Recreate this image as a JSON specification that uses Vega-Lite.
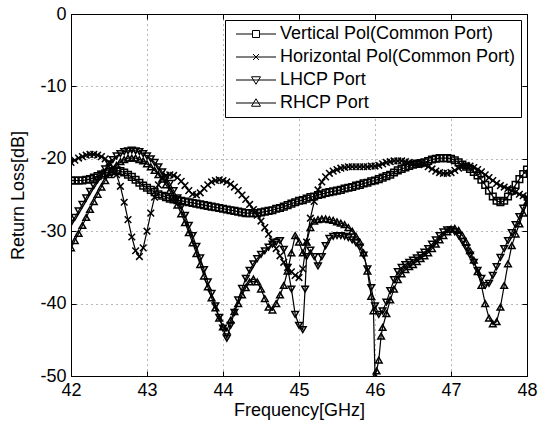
{
"$schema":"https://vega.github.io/schema/vega-lite/v6.json",
"width":456,"height":362,
"autosize":{"type":"none"},
"padding":{"left":71,"top":14,"right":11,"bottom":47},
"background":"white",
"config":{"view":{"stroke":"black","strokeWidth":1},"font":"Liberation Sans"},
"data":{"values":[
{"f":42.00,"V":-23.0,"H":-20.5,"L":-28.9,"R":-32.3},
{"f":42.05,"V":-23.0,"H":-20.2,"L":-28.1,"R":-31.3},
{"f":42.10,"V":-23.0,"H":-19.9,"L":-27.2,"R":-30.3},
{"f":42.15,"V":-23.0,"H":-19.7,"L":-26.3,"R":-29.2},
{"f":42.20,"V":-22.9,"H":-19.5,"L":-25.4,"R":-28.1},
{"f":42.25,"V":-22.8,"H":-19.4,"L":-24.5,"R":-27.0},
{"f":42.30,"V":-22.6,"H":-19.4,"L":-23.7,"R":-25.9},
{"f":42.35,"V":-22.4,"H":-19.5,"L":-22.9,"R":-24.9},
{"f":42.40,"V":-22.2,"H":-19.7,"L":-22.1,"R":-23.9},
{"f":42.45,"V":-22.0,"H":-20.0,"L":-21.4,"R":-23.0},
{"f":42.50,"V":-21.8,"H":-20.5,"L":-20.7,"R":-22.2},
{"f":42.55,"V":-21.7,"H":-21.2,"L":-20.1,"R":-21.5},
{"f":42.60,"V":-21.6,"H":-22.2,"L":-19.6,"R":-20.9},
{"f":42.65,"V":-21.7,"H":-23.8,"L":-19.3,"R":-20.4},
{"f":42.70,"V":-21.9,"H":-26.0,"L":-19.0,"R":-20.1},
{"f":42.75,"V":-22.2,"H":-28.4,"L":-18.9,"R":-19.9},
{"f":42.80,"V":-22.5,"H":-30.8,"L":-18.8,"R":-19.9},
{"f":42.85,"V":-22.9,"H":-32.7,"L":-18.9,"R":-19.9},
{"f":42.90,"V":-23.3,"H":-33.5,"L":-19.0,"R":-20.1},
{"f":42.95,"V":-23.7,"H":-32.3,"L":-19.3,"R":-20.3},
{"f":43.00,"V":-24.0,"H":-30.0,"L":-19.6,"R":-20.7},
{"f":43.05,"V":-24.3,"H":-27.5,"L":-20.0,"R":-21.1},
{"f":43.10,"V":-24.6,"H":-25.3,"L":-20.5,"R":-21.6},
{"f":43.15,"V":-24.9,"H":-23.6,"L":-21.1,"R":-22.2},
{"f":43.20,"V":-25.1,"H":-22.7,"L":-21.8,"R":-22.8},
{"f":43.25,"V":-25.3,"H":-22.3,"L":-22.6,"R":-23.6},
{"f":43.30,"V":-25.5,"H":-22.2,"L":-23.4,"R":-24.4},
{"f":43.35,"V":-25.6,"H":-22.3,"L":-24.4,"R":-25.4},
{"f":43.40,"V":-25.7,"H":-22.6,"L":-25.4,"R":-26.4},
{"f":43.45,"V":-25.8,"H":-23.1,"L":-26.6,"R":-27.6},
{"f":43.50,"V":-25.9,"H":-23.7,"L":-27.8,"R":-28.8},
{"f":43.55,"V":-26.0,"H":-24.4,"L":-29.2,"R":-30.2},
{"f":43.60,"V":-26.1,"H":-24.9,"L":-30.6,"R":-31.6},
{"f":43.65,"V":-26.2,"H":-25.0,"L":-32.1,"R":-33.1},
{"f":43.70,"V":-26.3,"H":-24.7,"L":-33.7,"R":-34.6},
{"f":43.75,"V":-26.4,"H":-24.1,"L":-35.3,"R":-36.2},
{"f":43.80,"V":-26.5,"H":-23.6,"L":-37.0,"R":-37.7},
{"f":43.85,"V":-26.6,"H":-23.2,"L":-38.6,"R":-39.2},
{"f":43.90,"V":-26.7,"H":-23.0,"L":-40.3,"R":-40.6},
{"f":43.95,"V":-26.8,"H":-22.9,"L":-41.9,"R":-42.0},
{"f":44.00,"V":-26.9,"H":-23.0,"L":-43.4,"R":-43.2},
{"f":44.05,"V":-27.0,"H":-23.2,"L":-44.8,"R":-43.8},
{"f":44.10,"V":-27.1,"H":-23.5,"L":-43.0,"R":-42.3},
{"f":44.15,"V":-27.2,"H":-23.9,"L":-41.2,"R":-41.1},
{"f":44.20,"V":-27.3,"H":-24.4,"L":-39.5,"R":-40.0},
{"f":44.25,"V":-27.4,"H":-25.0,"L":-37.9,"R":-38.8},
{"f":44.30,"V":-27.5,"H":-25.6,"L":-36.5,"R":-37.8},
{"f":44.35,"V":-27.5,"H":-26.3,"L":-35.4,"R":-37.0},
{"f":44.40,"V":-27.5,"H":-27.0,"L":-34.5,"R":-36.6},
{"f":44.45,"V":-27.5,"H":-27.8,"L":-33.8,"R":-37.0},
{"f":44.50,"V":-27.4,"H":-28.6,"L":-33.2,"R":-38.0},
{"f":44.55,"V":-27.3,"H":-29.5,"L":-32.7,"R":-39.3},
{"f":44.60,"V":-27.2,"H":-30.4,"L":-32.2,"R":-40.5},
{"f":44.65,"V":-27.1,"H":-31.4,"L":-31.8,"R":-40.9},
{"f":44.70,"V":-26.9,"H":-32.4,"L":-31.5,"R":-40.0},
{"f":44.75,"V":-26.8,"H":-33.4,"L":-31.3,"R":-38.8},
{"f":44.80,"V":-26.6,"H":-34.3,"L":-32.5,"R":-37.5},
{"f":44.85,"V":-26.4,"H":-35.0,"L":-35.0,"R":-35.5},
{"f":44.90,"V":-26.2,"H":-35.6,"L":-38.0,"R":-33.0},
{"f":44.95,"V":-26.0,"H":-36.1,"L":-41.5,"R":-30.6},
{"f":45.00,"V":-25.8,"H":-36.4,"L":-43.0,"R":-31.5},
{"f":45.05,"V":-25.7,"H":-35.2,"L":-43.6,"R":-33.0},
{"f":45.08,"L":-38.0},
{"f":45.10,"V":-25.5,"H":-31.5,"L":-33.5,"R":-31.5},
{"f":45.15,"V":-25.3,"H":-28.2,"L":-32.6,"R":-29.5},
{"f":45.20,"V":-25.2,"H":-25.9,"L":-33.5,"R":-28.6},
{"f":45.25,"V":-25.0,"H":-24.3,"L":-34.8,"R":-28.4},
{"f":45.30,"V":-24.9,"H":-23.2,"L":-33.5,"R":-28.3},
{"f":45.35,"V":-24.7,"H":-22.5,"L":-32.0,"R":-28.3},
{"f":45.40,"V":-24.6,"H":-22.0,"L":-31.0,"R":-28.4},
{"f":45.45,"V":-24.5,"H":-21.7,"L":-30.7,"R":-28.5},
{"f":45.50,"V":-24.4,"H":-21.5,"L":-30.6,"R":-28.7},
{"f":45.55,"V":-24.3,"H":-21.3,"L":-30.6,"R":-28.9},
{"f":45.60,"V":-24.1,"H":-21.2,"L":-30.7,"R":-29.1},
{"f":45.65,"V":-24.0,"H":-21.1,"L":-30.9,"R":-29.5},
{"f":45.70,"V":-23.9,"H":-21.1,"L":-31.2,"R":-30.0},
{"f":45.75,"V":-23.7,"H":-21.1,"L":-31.6,"R":-30.7},
{"f":45.80,"V":-23.6,"H":-21.1,"L":-32.2,"R":-31.5},
{"f":45.85,"V":-23.4,"H":-21.1,"L":-33.3,"R":-33.0},
{"f":45.90,"V":-23.3,"H":-21.1,"L":-35.2,"R":-35.5},
{"f":45.95,"V":-23.1,"H":-21.0,"L":-37.8,"R":-39.0},
{"f":45.98,"R":-41.0},
{"f":46.00,"V":-23.0,"H":-21.0,"L":-40.3,"R":-50.0},
{"f":46.02,"R":-49.3},
{"f":46.05,"V":-22.8,"H":-20.9,"L":-41.5,"R":-47.8},
{"f":46.08,"R":-44.5},
{"f":46.10,"V":-22.6,"H":-20.7,"L":-41.0,"R":-43.3},
{"f":46.15,"V":-22.4,"H":-20.5,"L":-39.8,"R":-41.4},
{"f":46.20,"V":-22.2,"H":-20.4,"L":-38.2,"R":-39.5},
{"f":46.25,"V":-21.9,"H":-20.3,"L":-36.7,"R":-38.0},
{"f":46.30,"V":-21.6,"H":-20.3,"L":-35.6,"R":-36.7},
{"f":46.35,"V":-21.4,"H":-20.3,"L":-35.0,"R":-35.9},
{"f":46.40,"V":-21.2,"H":-20.4,"L":-34.6,"R":-35.3},
{"f":46.45,"V":-21.0,"H":-20.5,"L":-34.3,"R":-34.9},
{"f":46.50,"V":-20.8,"H":-20.6,"L":-34.0,"R":-34.6},
{"f":46.55,"V":-20.7,"H":-20.6,"L":-33.7,"R":-34.2},
{"f":46.60,"V":-20.6,"H":-20.6,"L":-33.3,"R":-33.8},
{"f":46.65,"V":-20.5,"H":-20.8,"L":-32.9,"R":-33.4},
{"f":46.70,"V":-20.3,"H":-21.1,"L":-32.4,"R":-33.0},
{"f":46.75,"V":-20.1,"H":-21.4,"L":-31.8,"R":-32.4},
{"f":46.80,"V":-20.0,"H":-21.7,"L":-31.2,"R":-31.8},
{"f":46.85,"V":-19.9,"H":-21.9,"L":-30.6,"R":-31.2},
{"f":46.90,"V":-19.9,"H":-22.0,"L":-30.1,"R":-30.6},
{"f":46.95,"V":-19.9,"H":-22.0,"L":-29.8,"R":-30.1},
{"f":47.00,"V":-20.0,"H":-21.9,"L":-29.8,"R":-29.7},
{"f":47.05,"V":-20.2,"H":-21.6,"L":-30.1,"R":-29.6},
{"f":47.10,"V":-20.5,"H":-21.3,"L":-30.6,"R":-29.9},
{"f":47.15,"V":-20.8,"H":-21.0,"L":-31.4,"R":-30.6},
{"f":47.20,"V":-21.1,"H":-20.9,"L":-32.3,"R":-31.5},
{"f":47.25,"V":-21.4,"H":-21.0,"L":-33.3,"R":-32.7},
{"f":47.30,"V":-21.8,"H":-21.2,"L":-34.3,"R":-34.0},
{"f":47.35,"V":-22.3,"H":-21.5,"L":-35.4,"R":-35.6},
{"f":47.40,"V":-22.9,"H":-21.8,"L":-36.5,"R":-37.5},
{"f":47.45,"V":-23.6,"H":-22.2,"L":-37.5,"R":-40.0},
{"f":47.50,"V":-24.4,"H":-22.6,"L":-37.2,"R":-42.0},
{"f":47.55,"V":-25.2,"H":-23.0,"L":-36.1,"R":-42.8},
{"f":47.60,"V":-25.8,"H":-23.4,"L":-34.9,"R":-42.5},
{"f":47.65,"V":-26.0,"H":-23.7,"L":-33.6,"R":-40.5},
{"f":47.70,"V":-25.8,"H":-23.9,"L":-32.4,"R":-37.5},
{"f":47.75,"V":-25.2,"H":-24.1,"L":-31.3,"R":-34.5},
{"f":47.80,"V":-24.4,"H":-24.4,"L":-30.2,"R":-32.0},
{"f":47.85,"V":-23.6,"H":-24.6,"L":-29.1,"R":-30.4},
{"f":47.90,"V":-22.8,"H":-24.9,"L":-28.0,"R":-29.0},
{"f":47.95,"V":-22.1,"H":-25.1,"L":-26.8,"R":-27.5},
{"f":48.00,"V":-21.5,"H":-25.3,"L":-25.7,"R":-26.0}
]},
"transform":[{"fold":["V","H","L","R"],"as":["s","v"]},{"filter":"isValid(datum.v)"}],
"layer":[
{"mark":{"type":"line","color":"black","strokeWidth":1.2,"clip":true},
 "encoding":{
  "x":{"field":"f","type":"quantitative","scale":{"domain":[42,48],"nice":false,"zero":false},
   "axis":{"title":"Frequency[GHz]","values":[42,43,44,45,46,47,48],"format":"d","grid":true,"gridColor":"black","gridDash":[1,4],"gridOpacity":0.55,"gridWidth":1,"tickSize":-5,"tickColor":"black","domainColor":"black","labelColor":"black","labelFontSize":18,"labelFont":"Liberation Sans","labelPadding":10,"labelFlush":false,"titleFontSize":18,"titleFontWeight":"normal","titleColor":"black","titleFont":"Liberation Sans","titlePadding":2}},
  "y":{"field":"v","type":"quantitative","scale":{"domain":[-50,0],"nice":false,"zero":false},
   "axis":{"title":"Return Loss[dB]","values":[-50,-40,-30,-20,-10,0],"labelExpr":"'' + datum.value","grid":true,"gridColor":"black","gridDash":[1,4],"gridOpacity":0.55,"gridWidth":1,"tickSize":-5,"tickColor":"black","domainColor":"black","labelColor":"black","labelFontSize":18,"labelFont":"Liberation Sans","labelPadding":10,"titleFontSize":18,"titleFontWeight":"normal","titleColor":"black","titleFont":"Liberation Sans","titlePadding":12}},
  "detail":{"field":"s"}
 }},
{"mark":{"type":"point","filled":false,"color":"black","strokeWidth":1.5,"opacity":1,"size":44,"clip":true},
 "encoding":{
  "x":{"field":"f","type":"quantitative","scale":{"domain":[42,48],"nice":false,"zero":false},"axis":null},
  "y":{"field":"v","type":"quantitative","scale":{"domain":[-50,0],"nice":false,"zero":false},"axis":null},
  "shape":{"field":"s","type":"nominal","scale":{"domain":["V","H","L","R"],"range":["square","M-1,-1L1,1M-1,1L1,-1","triangle-down","triangle-up"]},"legend":null}
 }},
{"transform":[{"filter":"false"}],
 "mark":{"type":"point","filled":false,"color":"black","strokeWidth":1,"opacity":1},
 "encoding":{
  "x":{"field":"f","type":"quantitative","scale":{"domain":[42,48],"nice":false,"zero":false},
   "axis":{"orient":"top","labels":false,"domain":false,"grid":false,"tickSize":-5,"tickColor":"black","values":[42,43,44,45,46,47,48],"title":null}},
  "y":{"field":"v","type":"quantitative","scale":{"domain":[-50,0],"nice":false,"zero":false},
   "axis":{"orient":"right","labels":false,"domain":false,"grid":false,"tickSize":-5,"tickColor":"black","values":[-50,-40,-30,-20,-10,0],"title":null}},
  "shape":{"field":"s","type":"nominal","scale":{"domain":["V","H","L","R"],"range":["M-1,0H2.3M3.7,0H7M2.3,-0.7H3.7V0.7H2.3Z","M-1,0H7M2.4,-0.6L3.6,0.6M2.4,0.6L3.6,-0.6","M-1,0H7M2.1,-0.65H3.9L3,0.85Z","M-1,0H7M2.1,0.65H3.9L3,-0.85Z"]},
   "legend":{"title":null,"orient":"top-right","offset":6,"strokeColor":"black","fillColor":"white","padding":5,"cornerRadius":0,"symbolSize":100,"symbolStrokeWidth":1,"symbolStrokeColor":"black","symbolFillColor":"transparent","symbolOffset":2,"labelOffset":30,"rowPadding":5,"labelFont":"Liberation Sans","labelFontSize":18,"labelColor":"black","labelLimit":0,
    "labelExpr":"datum.label == 'V' ? 'Vertical Pol(Common Port)' : datum.label == 'H' ? 'Horizontal Pol(Common Port)' : datum.label == 'L' ? 'LHCP Port' : 'RHCP Port'"}}
 }}
],
"resolve":{"scale":{"x":"independent","y":"independent","shape":"independent"}}
}
